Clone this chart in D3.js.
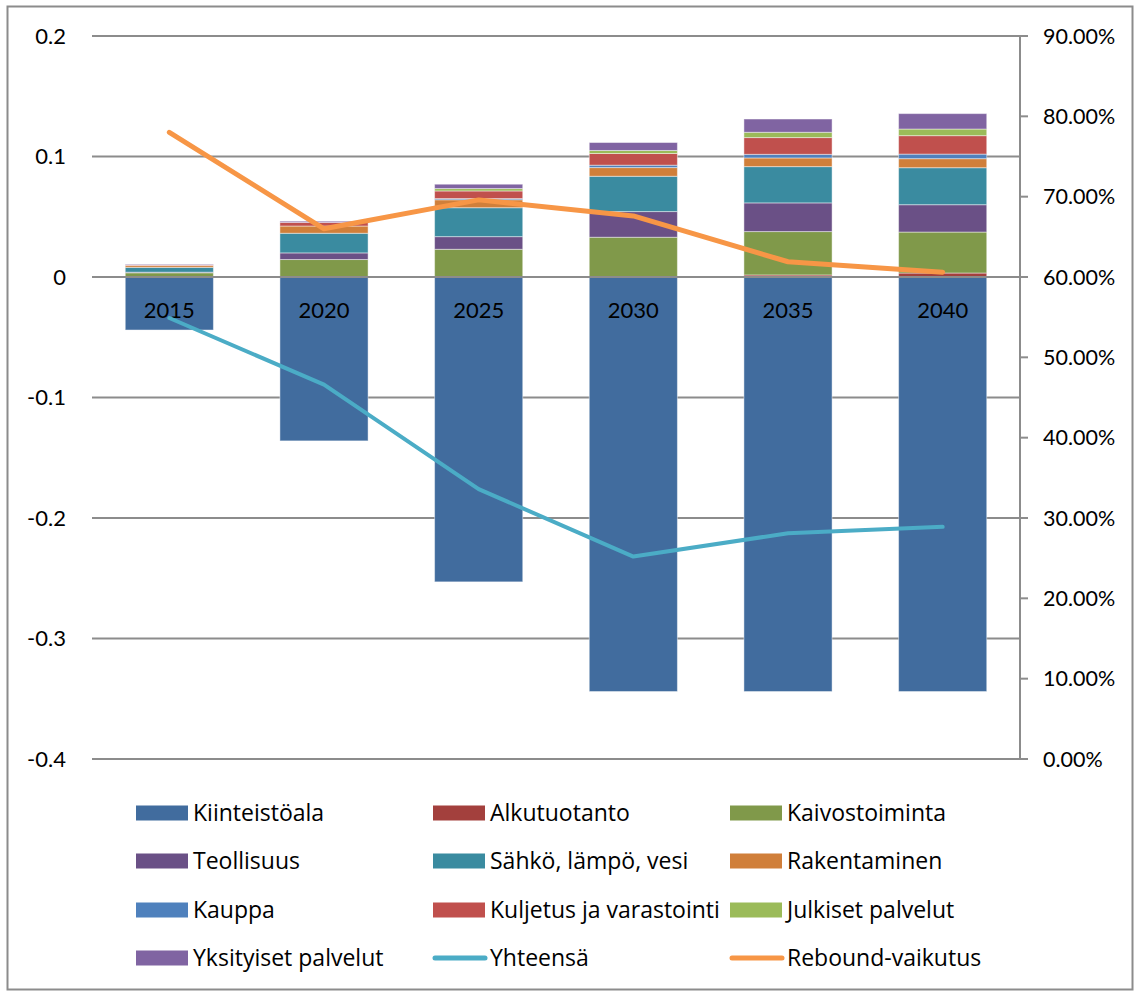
<!DOCTYPE html>
<html>
<head>
<meta charset="utf-8">
<script src="https://cdn.jsdelivr.net/npm/d3@7"></script>
<style>
  html, body { margin: 0; padding: 0; background: #fff; }
  svg text { font-family: Lato, "Open Sans", sans-serif; fill: #000; }
  svg text.legend-label { font-family: "Open Sans", Lato, sans-serif; }
</style>
</head>
<body>
<svg id="chart" width="1135" height="992"></svg>
<script>
// Years on the category axis
const years = ["2015", "2020", "2025", "2030", "2035", "2040"];

// Sector contributions (left axis), stacked bars
const kiinteistoala      = [-0.044, -0.136, -0.253, -0.344, -0.344, -0.344];
const alkutuotanto       = [0.0000, 0.0000, 0.0000, 0.0000, 0.0017, 0.0033];
const kaivostoiminta     = [0.0035, 0.0145, 0.0230, 0.0330, 0.0360, 0.0340];
const teollisuus         = [0.0005, 0.0055, 0.0105, 0.0213, 0.0238, 0.0227];
const sahkoLampoVesi     = [0.0040, 0.0163, 0.0240, 0.0293, 0.0301, 0.0307];
const rakentaminen       = [0.0015, 0.0060, 0.0066, 0.0072, 0.0072, 0.0075];
const kauppa             = [0.0000, 0.0000, 0.0010, 0.0020, 0.0030, 0.0038];
const kuljetus           = [0.0005, 0.0030, 0.0063, 0.0097, 0.0139, 0.0153];
const julkisetPalvelut   = [0.0000, 0.0000, 0.0020, 0.0025, 0.0044, 0.0055];
const yksityisetPalvelut = [0.0005, 0.0010, 0.0036, 0.0066, 0.0110, 0.0128];

// Percentage series (right axis)
const yhteensa        = [0.549, 0.466, 0.336, 0.252, 0.281, 0.289];
const reboundVaikutus = [0.780, 0.660, 0.696, 0.676, 0.619, 0.606];

// Axis ticks
const leftTicks  = [0.2, 0.1, 0, -0.1, -0.2, -0.3, -0.4];
const rightTicks = [0, 0.1, 0.2, 0.3, 0.4, 0.5, 0.6, 0.7, 0.8, 0.9];

const barSeries = [
  { name: "Kiinteistöala",          values: kiinteistoala,      color: "#416C9E" },
  { name: "Alkutuotanto",           values: alkutuotanto,       color: "#A3403D" },
  { name: "Kaivostoiminta",         values: kaivostoiminta,     color: "#80994A" },
  { name: "Teollisuus",             values: teollisuus,         color: "#6A5086" },
  { name: "Sähkö, lämpö, vesi",     values: sahkoLampoVesi,     color: "#3A8BA0" },
  { name: "Rakentaminen",           values: rakentaminen,       color: "#D07F3A" },
  { name: "Kauppa",                 values: kauppa,             color: "#4F81BD" },
  { name: "Kuljetus ja varastointi",values: kuljetus,           color: "#C0504D" },
  { name: "Julkiset palvelut",      values: julkisetPalvelut,   color: "#9BBB59" },
  { name: "Yksityiset palvelut",    values: yksityisetPalvelut, color: "#8064A2" }
];
const lineSeries = [
  { name: "Yhteensä",         values: yhteensa,        color: "#4BACC6", width: 4 },
  { name: "Rebound-vaikutus", values: reboundVaikutus, color: "#F79646", width: 5 }
];

const svg = d3.select("#chart");

// Outer frame
svg.append("rect")
  .attr("x", 7.5).attr("y", 6.5).attr("width", 1125).attr("height", 983)
  .attr("fill", "#fff").attr("stroke", "#8c8c8c").attr("stroke-width", 2);

const plot = { left: 92, right: 1020, top: 36, bottom: 759 };

const x = d3.scaleBand().domain(years).range([plot.left, plot.right]).paddingInner(0.43).paddingOuter(0.215);
const yL = d3.scaleLinear().domain([-0.4, 0.2]).range([plot.bottom, plot.top]);
const yR = d3.scaleLinear().domain([0, 0.9]).range([plot.bottom, plot.top]);

// Gridlines
svg.append("g").selectAll("line").data(leftTicks).join("line")
  .attr("x1", plot.left).attr("x2", plot.right)
  .attr("y1", d => yL(d)).attr("y2", d => yL(d))
  .attr("stroke", "#8c8c8c").attr("stroke-width", 2);

// Left axis labels
const leftFmt = d => d === 0 ? "0" : d3.format(".1f")(d).replace("−", "-");
svg.append("g").selectAll("text").data(leftTicks).join("text")
  .attr("x", 66).attr("y", d => yL(d)).attr("dy", "0.35em")
  .attr("text-anchor", "end").style("font-size", "22px")
  .text(leftFmt);

// Stacked bars, positives upward and negatives downward from zero
const stacked = [];
years.forEach((yr, i) => {
  let pos = 0, neg = 0;
  barSeries.forEach(s => {
    const v = s.values[i];
    if (v >= 0) { stacked.push({ yr, s, y0: pos, y1: pos + v }); pos += v; }
    else        { stacked.push({ yr, s, y0: neg + v, y1: neg }); neg += v; }
  });
});
svg.append("g").selectAll("rect").data(stacked.filter(d => d.y1 - d.y0 > 0)).join("rect")
  .attr("x", d => x(d.yr))
  .attr("width", x.bandwidth())
  .attr("y", d => yL(d.y1))
  .attr("height", d => yL(d.y0) - yL(d.y1))
  .attr("fill", d => d.s.color)
  .attr("stroke", "rgba(255,255,255,0.45)").attr("stroke-width", 1);

// Zero line redrawn over the bars
svg.append("line")
  .attr("x1", plot.left).attr("x2", plot.right)
  .attr("y1", yL(0)).attr("y2", yL(0))
  .attr("stroke", "#8c8c8c").attr("stroke-width", 2);

// Category labels next to the zero line
svg.append("g").selectAll("text").data(years).join("text")
  .attr("x", d => x(d) + x.bandwidth() / 2).attr("y", yL(0) + 41)
  .attr("text-anchor", "middle").style("font-size", "22px")
  .text(d => d);

// Right axis
const rightAxis = svg.append("g");
rightAxis.append("line")
  .attr("x1", plot.right).attr("x2", plot.right)
  .attr("y1", plot.top).attr("y2", plot.bottom)
  .attr("stroke", "#8c8c8c").attr("stroke-width", 2);
rightAxis.selectAll("line.tick").data(rightTicks).join("line").attr("class", "tick")
  .attr("x1", plot.right).attr("x2", plot.right + 8)
  .attr("y1", d => yR(d)).attr("y2", d => yR(d))
  .attr("stroke", "#8c8c8c").attr("stroke-width", 2);
rightAxis.selectAll("text").data(rightTicks).join("text")
  .attr("x", 1043).attr("y", d => yR(d)).attr("dy", "0.35em")
  .style("font-size", "21.5px")
  .text(d => d3.format(".2%")(d));

// Percentage lines
const line = d3.line().x((d, i) => x(years[i]) + x.bandwidth() / 2).y(d => yR(d));
svg.append("g").selectAll("path").data(lineSeries).join("path")
  .attr("d", d => line(d.values))
  .attr("fill", "none").attr("stroke", d => d.color)
  .attr("stroke-width", d => d.width)
  .attr("stroke-linejoin", "round").attr("stroke-linecap", "round");

// Legend, three columns
const legendItems = barSeries.map(s => ({ name: s.name, color: s.color, type: "bar" }))
  .concat(lineSeries.map(s => ({ name: s.name, color: s.color, type: "line", width: s.width })));
const colX = [136, 433, 730];
const rowY = [813, 861, 910, 958];
const lg = svg.append("g").selectAll("g").data(legendItems).join("g")
  .attr("transform", (d, i) => `translate(${colX[i % 3]},${rowY[Math.floor(i / 3)]})`);
lg.filter(d => d.type === "bar").append("rect")
  .attr("x", 0).attr("y", -7.5).attr("width", 52).attr("height", 15)
  .attr("fill", d => d.color);
lg.filter(d => d.type === "line").append("line")
  .attr("x1", 2).attr("x2", 52).attr("y1", 0).attr("y2", 0)
  .attr("stroke", d => d.color).attr("stroke-width", 5).attr("stroke-linecap", "round");
lg.append("text").attr("class", "legend-label")
  .attr("x", 57).attr("y", 0).attr("dy", "0.35em")
  .style("font-size", "23px")
  .text(d => d.name);
</script>
</body>
</html>
